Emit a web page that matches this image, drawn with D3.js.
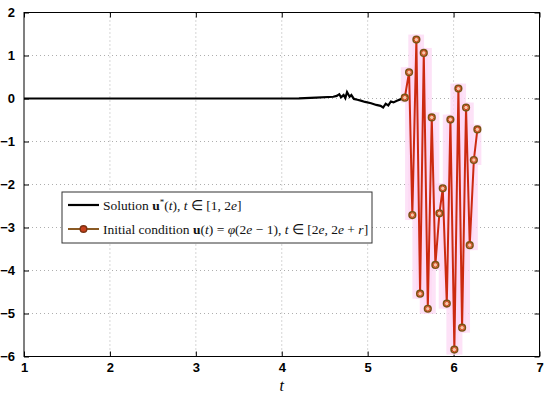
<!DOCTYPE html>
<html>
<head>
<meta charset="utf-8">
<script src="https://cdn.jsdelivr.net/npm/d3@7"></script>
<style>
  body { margin: 0; background: #fff; }
  .tick text { font-family: "Liberation Sans", Arial, sans-serif; font-weight: bold; font-size: 13px; }
</style>
</head>
<body>
<div id="chart"></div>
<script>
// ---- data ----
var solT = [1.0, 4.0, 4.2, 4.4, 4.6, 4.64, 4.67, 4.69, 4.72, 4.74, 4.76, 4.79, 4.81, 4.84, 4.88, 4.92, 4.97, 5.04, 5.10, 5.15, 5.18, 5.21, 5.24, 5.27, 5.30, 5.34, 5.38, 5.432];
var solU = [0, 0, 0.005, 0.02, 0.04, 0.06, 0.10, 0.03, 0.08, 0.01, 0.15, 0.04, 0.08, -0.01, -0.03, -0.05, -0.08, -0.11, -0.15, -0.17, -0.21, -0.12, -0.16, -0.07, -0.09, -0.05, -0.02, 0.02];

var initT = [5.432, 5.482, 5.520, 5.567, 5.610, 5.653, 5.700, 5.746, 5.788, 5.835, 5.874, 5.921, 5.963, 6.009, 6.056, 6.099, 6.145, 6.188, 6.236, 6.277];
var initU = [0.02, 0.61, -2.71, 1.37, -4.54, 1.06, -4.89, -0.44, -3.87, -2.67, -2.09, -4.77, -0.49, -5.84, 0.23, -5.33, -0.21, -3.41, -1.43, -0.72];

var xTicks = [1, 2, 3, 4, 5, 6, 7];
var yTicks = [2, 1, 0, -1, -2, -3, -4, -5, -6];

// ---- layout ----
var W = 550, H = 394;
var margin = {left: 24, top: 12.5, right: 10.5, bottom: 37.5};
var width = W - margin.left - margin.right,
    height = H - margin.top - margin.bottom;

var x = d3.scaleLinear().domain([1, 7]).range([0, width]);
var y = d3.scaleLinear().domain([-6, 2]).range([height, 0]);

var svg = d3.select("#chart").append("svg")
  .attr("width", W).attr("height", H)
  .append("g")
  .attr("transform", "translate(" + margin.left + "," + margin.top + ")");

// grid
svg.append("g").selectAll("line.gx")
  .data(xTicks.slice(1, -1)).enter().append("line")
  .attr("x1", d => x(d)).attr("x2", d => x(d))
  .attr("y1", 0).attr("y2", height)
  .attr("stroke", "#999").attr("stroke-width", 0.8).attr("stroke-dasharray", "1,3");
svg.append("g").selectAll("line.gy")
  .data(yTicks.slice(1, -1)).enter().append("line")
  .attr("y1", d => y(d)).attr("y2", d => y(d))
  .attr("x1", 0).attr("x2", width)
  .attr("stroke", "#999").attr("stroke-width", 0.8).attr("stroke-dasharray", "1,3");

// axes (ticks inward)
var xAxis = d3.axisBottom(x).tickValues(xTicks).tickFormat(d3.format("d")).tickSizeInner(-5).tickSizeOuter(0).tickPadding(6);
var yAxis = d3.axisLeft(y).tickValues(yTicks).tickFormat(d => d < 0 ? "\u2212" + (-d) : d).tickSizeInner(-5).tickSizeOuter(0).tickPadding(9);

svg.append("g").attr("transform", "translate(0," + height + ")").call(xAxis)
  .call(g => g.select(".domain").remove());
svg.append("g").call(yAxis).call(g => g.select(".domain").remove());
svg.append("g").call(d3.axisTop(x).tickValues(xTicks).tickSizeInner(-5).tickSizeOuter(0).tickFormat(""))
  .call(g => g.select(".domain").remove());
svg.append("g").attr("transform", "translate(" + width + ",0)")
  .call(d3.axisRight(y).tickValues(yTicks).tickSizeInner(-5).tickSizeOuter(0).tickFormat(""))
  .call(g => g.select(".domain").remove());
svg.selectAll(".tick line").attr("stroke", "#000");
svg.selectAll(".tick text").attr("fill", "#000");

// pink halo boxes around the initial-condition segments
var init = initT.map((t, i) => ({t: t, u: initU[i]}));
var segs = d3.pairs(init);
svg.append("g").selectAll("rect")
  .data(segs).enter().append("rect")
  .attr("x", d => Math.min(x(d[0].t), x(d[1].t)) - 4)
  .attr("y", d => Math.min(y(d[0].u), y(d[1].u)) - 5)
  .attr("width", d => Math.abs(x(d[1].t) - x(d[0].t)) + 8)
  .attr("height", d => Math.abs(y(d[1].u) - y(d[0].u)) + 10)
  .attr("fill", "#fcd8f4").attr("opacity", 0.75);

// solution line
var sol = solT.map((t, i) => ({t: t, u: solU[i]}));
var line = d3.line().x(d => x(d.t)).y(d => y(d.u));
svg.append("path").datum(sol)
  .attr("d", line).attr("fill", "none")
  .attr("stroke", "#000").attr("stroke-width", 2.2);

// initial condition line + markers
svg.append("path").datum(init)
  .attr("d", line).attr("fill", "none")
  .attr("stroke", "#cc2a10").attr("stroke-width", 2).attr("stroke-linejoin", "round");
svg.append("g").selectAll("circle")
  .data(init).enter().append("circle")
  .attr("cx", d => x(d.t)).attr("cy", d => y(d.u)).attr("r", 3.3)
  .attr("fill", "#f3c9a8").attr("stroke", "#7a5212").attr("stroke-width", 1.6);
svg.append("g").selectAll("circle")
  .data(init).enter().append("circle")
  .attr("cx", d => x(d.t)).attr("cy", d => y(d.u)).attr("r", 2.2)
  .attr("fill", "none").attr("stroke", "#d2401a").attr("stroke-width", 1);

// frame
svg.append("rect").attr("width", width).attr("height", height)
  .attr("fill", "none").attr("stroke", "#000").attr("stroke-width", 1);

// x label
svg.append("text")
  .attr("x", x(4)).attr("y", height + 34)
  .attr("text-anchor", "middle")
  .attr("font-family", "Liberation Serif, serif").attr("font-style", "italic")
  .attr("font-size", 16).text("t");

// legend
var leg = svg.append("g").attr("transform", "translate(" + (62 - margin.left) + "," + (192 - margin.top) + ")");
leg.append("rect").attr("width", 310).attr("height", 51)
  .attr("fill", "#fff").attr("stroke", "#333").attr("stroke-width", 1);
leg.append("line").attr("x1", 6).attr("x2", 37).attr("y1", 13).attr("y2", 13)
  .attr("stroke", "#000").attr("stroke-width", 2.2);
leg.append("line").attr("x1", 6).attr("x2", 37).attr("y1", 37).attr("y2", 37)
  .attr("stroke", "#8a5a24").attr("stroke-width", 2);
leg.append("circle").attr("cx", 21.5).attr("cy", 37).attr("r", 3.3)
  .attr("fill", "#c8401c").attr("stroke", "#7a3212").attr("stroke-width", 1.4);

function legText(yy, parts) {
  var t = leg.append("text").attr("x", 41).attr("y", yy)
    .attr("font-family", "Liberation Serif, serif").attr("font-size", 13.5).attr("fill", "#111");
  parts.forEach(p => {
    var s = t.append("tspan").text(p[0]);
    if (p[1] === "b") s.attr("font-weight", "bold");
    if (p[1] === "i") s.attr("font-style", "italic");
    if (p[1] === "sup") s.attr("font-size", 9).attr("dy", -5);
    if (p[1] === "down") s.attr("dy", 5);
  });
}
legText(17.5, [["Solution "], ["u", "b"], ["*", "sup"], ["(", "down"], ["t", "i"], ["), "], ["t", "i"], [" \u2208 [1, 2"], ["e", "i"], ["]"]]);
legText(41.5, [["Initial condition "], ["u", "b"], ["("], ["t", "i"], [") = "], ["\u03c6", "i"], ["(2"], ["e", "i"], [" \u2212 1), "], ["t", "i"], [" \u2208 [2"], ["e", "i"], [", 2"], ["e", "i"], [" + "], ["r", "i"], ["]"]]);
</script>
</body>
</html>
